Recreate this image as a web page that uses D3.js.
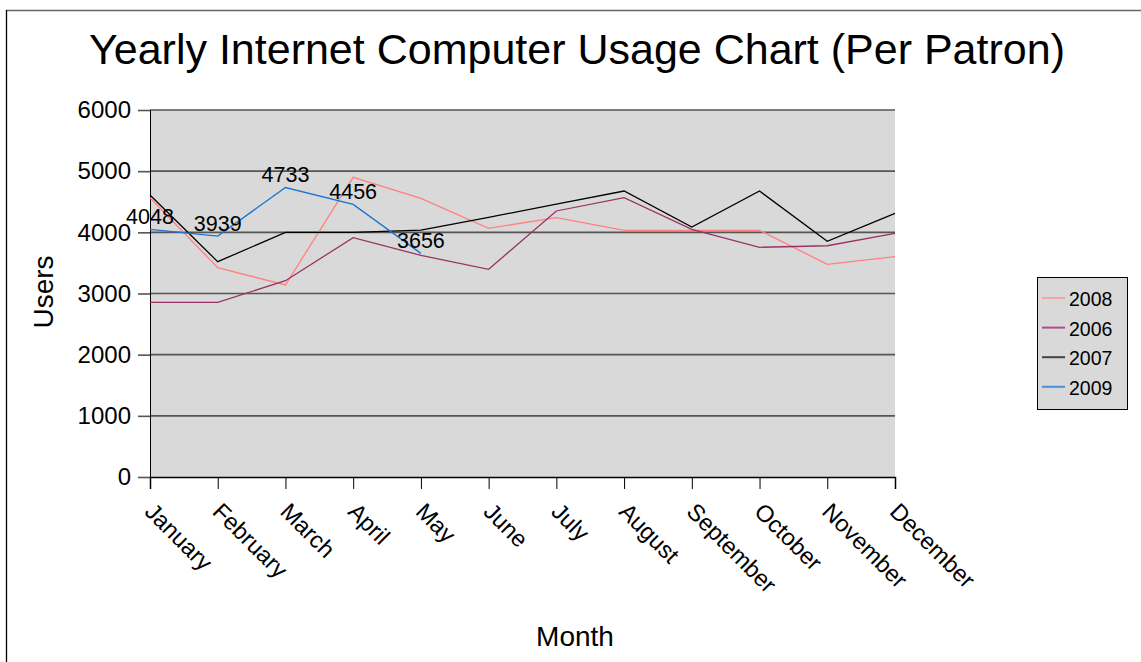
<!DOCTYPE html>
<html>
<head>
<meta charset="utf-8">
<script src="https://cdn.jsdelivr.net/npm/d3@7"></script>
<style>
  body { margin: 0; background: #fff; }
  svg { font-family: "Liberation Sans", Arial, sans-serif; }
</style>
</head>
<body>
<svg id="chart"></svg>
<script>
var months = ['January', 'February', 'March', 'April', 'May', 'June', 'July',
    'August', 'September', 'October', 'November', 'December'];
var yTicks = [0, 1000, 2000, 3000, 4000, 5000, 6000];

// values
var users2008 = [4566, 3422, 3139, 4900, 4556, 4066, 4240, 4033, 4033, 4033, 3477, 3602];
var users2006 = [2856, 2856, 3209, 3913, 3624, 3395, 4349, 4566, 4049, 3755, 3781, 3984];
var users2007 = [4610, 3520, 4000, 4000, 4035, 4245, 4460, 4675, 4087, 4675, 3853, 4310];
var users2009 = [4048, 3939, 4733, 4456, 3656];

var seriesNames = ['2008', '2006', '2007', '2009'];
var seriesColors = ['#ff8080', '#993366', '#000000', '#1a73d4'];
var legendColors = ['#f4a4a4', '#b04e7e', '#444444', '#4a90d8'];

var width = 1141;
var height = 662;

var svg = d3.select('#chart')
    .attr('width', width)
    .attr('height', height);

var x = d3.scalePoint()
    .domain(months)
    .range([150, 895]);

var y = d3.scaleLinear()
    .domain([0, 6000])
    .range([477, 110]);

// outer frame
svg.append('path')
    .attr('d', 'M6.5,' + height + 'V10.5H' + width)
    .attr('fill', 'none')
    .attr('stroke', '#666')
    .attr('stroke-width', 1.5);
svg.append('line')
    .attr('x1', 6.5).attr('x2', 6.5)
    .attr('y1', 10).attr('y2', height)
    .attr('stroke', '#000');

// plot background
svg.append('rect')
    .attr('x', x.range()[0])
    .attr('y', y(6000))
    .attr('width', x.range()[1] - x.range()[0])
    .attr('height', y(0) - y(6000))
    .attr('fill', '#d9d9d9');

// grid
svg.append('g')
    .selectAll('line')
    .data(yTicks.slice(1))
    .enter()
    .append('line')
    .attr('x1', x.range()[0])
    .attr('x2', x.range()[1])
    .attr('y1', function(d) { return y(d); })
    .attr('y2', function(d) { return y(d); })
    .attr('stroke', '#555')
    .attr('stroke-width', 1.6);

// y axis
var yAxis = svg.append('g')
    .attr('transform', 'translate(150,0)')
    .call(d3.axisLeft(y).tickValues(yTicks).tickSize(12).tickPadding(7).tickFormat(d3.format('d')));
yAxis.select('.domain').attr('stroke', '#000');
yAxis.selectAll('.tick line').attr('stroke', '#555').attr('stroke-width', 1.6);
yAxis.selectAll('.tick text')
    .attr('font-size', 24)
    .attr('fill', '#000')
    .attr('font-family', '"Liberation Sans", Arial, sans-serif');

// x axis
var xAxis = svg.append('g')
    .attr('transform', 'translate(0,477)')
    .call(d3.axisBottom(x).tickSize(12));
xAxis.select('.domain').attr('stroke', '#000').attr('stroke-width', 1.5);
xAxis.selectAll('.tick line').attr('stroke', '#000');
xAxis.selectAll('.tick text')
    .attr('font-size', 23.5)
    .attr('fill', '#000')
    .attr('font-family', '"Liberation Sans", Arial, sans-serif')
    .attr('text-anchor', 'start')
    .attr('x', 0)
    .attr('y', 0)
    .attr('dy', '0.72em')
    .attr('transform', 'translate(5,24) rotate(45)');

// lines
var allSeries = [users2008, users2006, users2007, users2009];

var line = d3.line()
    .x(function(d, i) { return x(months[i]); })
    .y(function(d) { return y(d); });

svg.append('g')
    .selectAll('path')
    .data(allSeries)
    .enter()
    .append('path')
    .attr('d', line)
    .attr('fill', 'none')
    .attr('stroke', function(d, i) { return seriesColors[i]; })
    .attr('stroke-width', 1.3);

// data labels for 2009
svg.append('g')
    .selectAll('text')
    .data(users2009)
    .enter()
    .append('text')
    .attr('x', function(d, i) { return x(months[i]); })
    .attr('y', function(d) { return y(d) - 5; })
    .attr('text-anchor', 'middle')
    .attr('font-size', 21.5)
    .text(function(d) { return d; });

// title
svg.append('text')
    .attr('x', 577)
    .attr('y', 64)
    .attr('text-anchor', 'middle')
    .attr('font-size', 43)
    .text('Yearly Internet Computer Usage Chart (Per Patron)');

// axis titles
svg.append('text')
    .attr('x', 575)
    .attr('y', 646)
    .attr('text-anchor', 'middle')
    .attr('font-size', 28)
    .text('Month');

svg.append('text')
    .attr('transform', 'translate(53,292) rotate(-90)')
    .attr('text-anchor', 'middle')
    .attr('font-size', 28)
    .text('Users');

// legend
var legend = svg.append('g')
    .attr('transform', 'translate(1037,277)');

legend.append('rect')
    .attr('x', 0.5)
    .attr('y', 0.5)
    .attr('width', 90)
    .attr('height', 132)
    .attr('fill', '#d9d9d9')
    .attr('stroke', '#000');

var items = legend.selectAll('g.item')
    .data(seriesNames)
    .enter()
    .append('g')
    .attr('class', 'item')
    .attr('transform', function(d, i) { return 'translate(0,' + (21 + i * 29.6) + ')'; });

items.append('line')
    .attr('x1', 5)
    .attr('x2', 28)
    .attr('y1', 0)
    .attr('y2', 0)
    .attr('stroke', function(d, i) { return legendColors[i]; })
    .attr('stroke-width', 2);

items.append('text')
    .attr('x', 32)
    .attr('y', 8)
    .attr('font-size', 19.5)
    .text(function(d) { return d; });
</script>
</body>
</html>
